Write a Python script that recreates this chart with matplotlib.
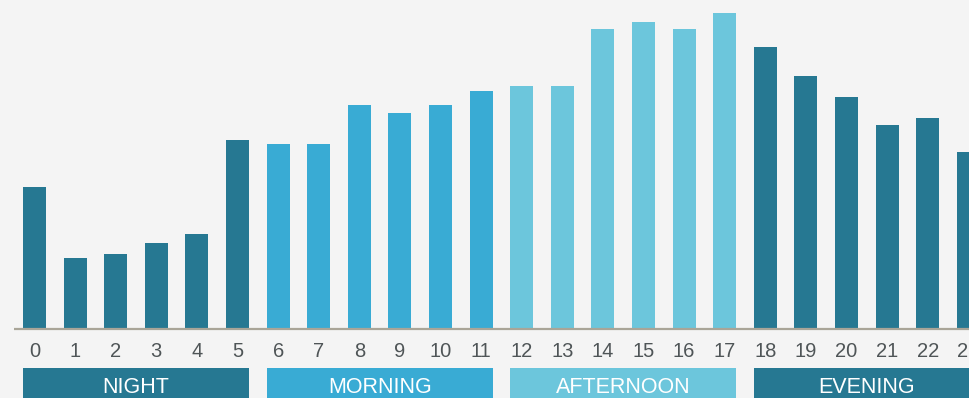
import matplotlib.pyplot as plt

hours = list(range(24))
values = [141, 70, 74, 85, 94, 188, 184, 184, 223, 215, 223, 237,
          242, 242, 299, 306, 299, 315, 281, 252, 231, 203, 210, 176]
periods = ['NIGHT', 'MORNING', 'AFTERNOON', 'EVENING']
period_colors = ['#267892', '#39abd4', '#6cc6dc', '#267892']
period_start = [0, 6, 12, 18]

plt.rcParams['font.family'] = ['Liberation Sans', 'DejaVu Sans']

fig = plt.figure(figsize=(9.7, 3.98), dpi=100, facecolor='#f4f4f4')
ax = fig.add_axes([0, 0, 1, 1])
ax.set_facecolor('#f4f4f4')

bar_w = 0.566
colors = [period_colors[h // 6] for h in hours]
ax.bar(hours, values, width=bar_w, color=colors, zorder=2)

# baseline
ax.plot([-0.505, 24], [-1, -1], color='#a9a598', lw=1.6, zorder=3, solid_capstyle='butt')

# hour labels
for h in hours:
    ax.text(h, -29.3, str(h), ha='center', va='baseline', fontsize=14.5, color='#4f5557')

# period bands
for name, col, s in zip(periods, period_colors, period_start):
    left = s - bar_w / 2
    right = s + 5 + bar_w / 2 if name != 'EVENING' else 25
    ax.fill_between([left, right], -40, -75, color=col, lw=0)
    mid = s + 2.5
    ax.text(mid, -65.3, name, ha='center', va='baseline', fontsize=15.5, color='white')

ax.set_xlim(-0.85, 23.04)
ax.set_ylim(-70, 328)
ax.axis('off')

fig.savefig('out.png', dpi=100, facecolor=fig.get_facecolor())
